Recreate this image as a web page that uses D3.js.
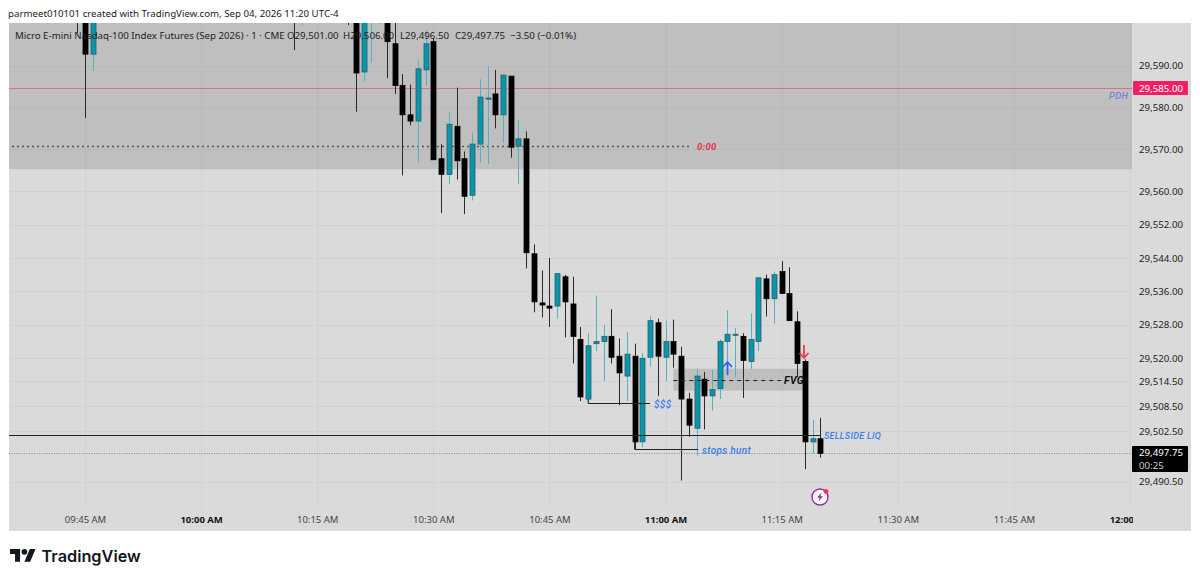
<!DOCTYPE html>
<html>
<head>
<meta charset="utf-8">
<script src="https://cdn.jsdelivr.net/npm/d3@7"></script>
<style>
  html, body { margin: 0; padding: 0; background: #fff; }
  svg { display: block; }
  text { font-family: "Noto Sans", sans-serif; }
</style>
</head>
<body>
<svg id="plot" width="1200" height="581"></svg>
<script>
// minutes since midnight, one candle per minute (bars off the top of the pane are estimates)
const minutes = [584,585,586,612,613,619,620,621,622,623,624,625,626,627,628,629,630,631,632,633,634,635,636,637,638,639,640,641,642,643,644,645,646,647,648,649,650,651,652,653,654,655,656,657,658,659,660,661,662,663,664,665,666,667,668,669,670,671,672,673,674,675,676,677,678,679,680];
const opens = [29606,29612,29592.75,29605,29604,29610,29608,29588.5,29604,29603,29607,29595.25,29585.25,29578.25,29576.75,29589,29595.75,29567.75,29564,29575.5,29567.75,29559,29571.25,29582,29583.25,29578.25,29587.5,29570.75,29572.5,29545,29533.25,29532.5,29532.5,29539.5,29533,29524.5,29510.25,29523.5,29524,29525.25,29520.5,29515.75,29520.5,29500,29520.25,29528.5,29520.25,29524,29520.5,29510.25,29503.25,29515,29511,29512.75,29524,29525.5,29525.25,29519.25,29524,29539,29534.25,29540.75,29535.5,29528.75,29519.25,29500,29500.75];
const highs = [29610,29615,29612,29608,29609,29612,29612,29609,29609,29607,29609,29601,29588,29585.5,29591.5,29598.5,29596.5,29571.25,29578.75,29584.75,29569.5,29574,29586.75,29589.75,29589,29587.75,29587.5,29577,29574.25,29547.25,29541,29544,29540.25,29540,29539.5,29527.5,29526,29535,29528,29531.75,29524.75,29526.25,29523.5,29521.25,29530,29529.5,29529,29529.25,29522.75,29511.75,29517.5,29516.75,29517.25,29524.5,29531.5,29527.25,29526,29530.75,29539.5,29540,29540.75,29543.25,29541.75,29531.25,29519.75,29505.25,29505.75];
const lows = [29597.75,29577.5,29588.75,29593.75,29599.75,29599.75,29579,29586.25,29590.75,29600,29587,29583.25,29563.75,29575.75,29566.75,29585.25,29567.5,29554.75,29561.75,29562.75,29554.5,29557.75,29566.75,29566.5,29575,29571.5,29568,29561.75,29541.5,29531,29529.75,29527.5,29529.5,29525,29518.75,29509.75,29509.25,29521.75,29514.5,29518.75,29508.75,29509.75,29498.25,29498.75,29518,29511,29514.5,29517.75,29490.75,29501.25,29496.75,29503,29507.5,29510.25,29519.25,29515.5,29510.5,29517.5,29521.75,29530,29528.25,29535.5,29529,29515.5,29493.5,29497.25,29496.25];
const closes = [29604,29592.75,29610,29603,29607,29604,29588.25,29606,29608,29605,29595.75,29585.25,29578.25,29576.75,29589.25,29595.25,29567.5,29564,29576,29567.25,29558.75,29571.25,29582.5,29582.25,29578.25,29587.75,29570.5,29572.5,29545.25,29533.5,29532.75,29532,29540.25,29533.5,29525.25,29510.75,29523,29524,29525.25,29520.25,29516.5,29521,29500,29520,29529,29520.5,29524,29521,29510.25,29504,29515.75,29511,29512.5,29524,29525.75,29525.75,29519.5,29524.5,29539.25,29534.25,29540,29535.5,29529,29518.75,29500,29500.75,29497.25];

const priceTicks = [29590,29580,29570,29560,29552,29544,29536,29528,29520,29514.5,29508.5,29502.5,29490.5];
const timeTicks = [585,600,615,630,645,660,675,690,705,720];
const timeLabels = ["09:45 AM","10:00 AM","10:15 AM","10:30 AM","10:45 AM","11:00 AM","11:15 AM","11:30 AM","11:45 AM","12:00 PM"];
const boldTimes = [600,660,720];

const legendParts = ["Micro E-mini Nasdaq-100 Index Futures (Sep 2026) · 1 · CME","O29,501.00","H29,506.00","L29,496.50","C29,497.75  −3.50 (−0.01%)"];
const legendX = [15,287,343,400,455];

const pdhPrice = 29584.75, zoneBottom = 29565.25, zoneTop = 29625;
const dottedLevel = 29570.75, sellsideLevel = 29501.75, dollarLevel = 29509.25, stopsLevel = 29498.25;
const lastLevel = 29497.25, fvgTop = 29517.5, fvgBottom = 29512.25, fvgMid = 29514.75;

const pane = { left: 9, right: 1132, top: 23, bottom: 508 };

const x = d3.scaleLinear().domain([585, 720]).range([85, 1130]);
const y = d3.scaleLinear().domain([29590, 29490.5]).range([65.7, 481.6]);

const svg = d3.select("#plot");

// grey frame behind chart and axes
svg.append("rect").attr("x", pane.left).attr("y", pane.top)
  .attr("width", 1191 - pane.left).attr("height", 531 - pane.top).attr("fill", "#dadada");

svg.append("defs").append("clipPath").attr("id", "paneClip").append("rect")
  .attr("x", pane.left).attr("y", pane.top)
  .attr("width", pane.right - pane.left).attr("height", pane.bottom - pane.top);
d3.select("defs").append("clipPath").attr("id", "timeClip").append("rect")
  .attr("x", pane.left).attr("y", pane.bottom)
  .attr("width", 1133 - pane.left).attr("height", 531 - pane.bottom);

const chart = svg.append("g").attr("clip-path", "url(#paneClip)");

// grid
chart.append("g").selectAll("line").data(priceTicks).join("line")
  .attr("x1", pane.left).attr("x2", pane.right)
  .attr("y1", d => Math.round(y(d)) + .5).attr("y2", d => Math.round(y(d)) + .5)
  .attr("stroke", "#d2d2d2");
chart.append("g").selectAll("line").data(timeTicks).join("line")
  .attr("y1", pane.top).attr("y2", pane.bottom)
  .attr("x1", d => Math.round(x(d)) + .5).attr("x2", d => Math.round(x(d)) + .5)
  .attr("stroke", "#d2d2d2");

// premium zone on top
chart.append("rect")
  .attr("x", pane.left).attr("width", pane.right - pane.left)
  .attr("y", y(zoneTop)).attr("height", y(zoneBottom) - y(zoneTop))
  .attr("fill", "#000").attr("fill-opacity", .12);

// FVG box
chart.append("rect")
  .attr("x", x(661)).attr("width", x(678) - x(661))
  .attr("y", y(fvgTop)).attr("height", y(fvgBottom) - y(fvgTop))
  .attr("fill", "#000").attr("fill-opacity", .12);

// levels
function level(value, from, to, color, dash, w) {
  chart.append("line")
    .attr("x1", from).attr("x2", to)
    .attr("y1", Math.round(y(value)) + .5).attr("y2", Math.round(y(value)) + .5)
    .attr("stroke", color).attr("stroke-width", w || 1)
    .attr("stroke-dasharray", dash || null);
}
level(pdhPrice, pane.left, pane.right, "#dc6f8c");
level(dottedLevel, x(575.6), x(663.4), "#333", "1.5 3.5", 1.5);
level(lastLevel, pane.left, pane.right, "#8a8a8a", "1 1.5");

// candles
const candles = minutes.map((m, i) => ({ m, o: opens[i], h: highs[i], l: lows[i], c: closes[i] }));
const up = d => d.c >= d.o;
const bar = chart.append("g").selectAll("g").data(candles).join("g");
bar.append("line")
  .attr("x1", d => Math.round(x(d.m)) + .5).attr("x2", d => Math.round(x(d.m)) + .5)
  .attr("y1", d => y(d.h)).attr("y2", d => y(d.l))
  .attr("stroke", d => up(d) ? "#4fb4c2" : "#2a2a2a");
bar.append("rect")
  .attr("x", d => Math.round(x(d.m)) - 2)
  .attr("width", 5)
  .attr("y", d => y(Math.max(d.o, d.c)))
  .attr("height", d => Math.max(1, Math.abs(y(d.o) - y(d.c))))
  .attr("fill", d => up(d) ? "#0797ab" : "#000")
  .attr("stroke", d => up(d) ? "#2c5d66" : "#000")
  .attr("stroke-width", .8);

// drawn lines over the candles
level(sellsideLevel, pane.left, x(680), "#222");
level(dollarLevel, x(650), x(658), "#222");
level(stopsLevel, x(656), x(664.2), "#222");
level(fvgMid, x(661), x(675), "#222", "4 4");
chart.append("line")
  .attr("x1", x(656)).attr("x2", x(656))
  .attr("y1", y(29500)).attr("y2", y(stopsLevel)).attr("stroke", "#222");
chart.append("line")
  .attr("x1", x(650)).attr("x2", x(650))
  .attr("y1", y(29510.25)).attr("y2", y(dollarLevel)).attr("stroke", "#222");

// arrows
function arrow(cx, tipY, dir, color) {
  chart.append("path")
    .attr("d", `M${cx},${tipY}v${-dir * 13}M${cx - 4.5},${tipY - dir * 5}L${cx},${tipY}L${cx + 4.5},${tipY - dir * 5}`)
    .attr("fill", "none").attr("stroke", color).attr("stroke-width", 1.8);
}
arrow(727.5, 362, -1, "#2962ff");
arrow(804, 358, 1, "#f23645");

// price axis
const yAxis = svg.append("g")
  .attr("transform", `translate(1132,0)`)
  .call(d3.axisRight(y).tickValues(priceTicks).tickSize(0).tickPadding(7)
    .tickFormat(d3.format(",.2f")));
yAxis.select(".domain").remove();
yAxis.selectAll("text").style("font-size", "9.7px").attr("fill", "#222").style("font-family", "\"Noto Sans\"");

// time axis
const xAxis = svg.append("g")
  .attr("clip-path", "url(#timeClip)")
  .append("g")
  .attr("transform", "translate(0,513)")
  .call(d3.axisBottom(x).tickValues(timeTicks).tickSize(0).tickPadding(3)
    .tickFormat((d, i) => timeLabels[i]));
xAxis.select(".domain").remove();
xAxis.selectAll("text")
  .style("font-size", "9.5px").style("font-family", "\"Noto Sans\"")
  .attr("fill", d => boldTimes.includes(d) ? "#111" : "#444")
  .style("font-weight", d => boldTimes.includes(d) ? 700 : 400);

// price labels
svg.append("rect").attr("x", 1133).attr("y", 81).attr("width", 55).attr("height", 14).attr("rx", 1).attr("fill", "#f01f63");
svg.append("text").attr("x", 1139).attr("y", 91.5).attr("fill", "#fff").style("font-size", "9.7px").text("29,585.00");
svg.append("rect").attr("x", 1132).attr("y", 446).attr("width", 56).attr("height", 26).attr("rx", 1).attr("fill", "#000");
svg.append("text").attr("x", 1139).attr("y", 456).attr("fill", "#fff").style("font-size", "9.7px").text("29,497.75");
svg.append("text").attr("x", 1139).attr("y", 468.5).attr("fill", "#ccc").style("font-size", "9.7px").text("00:25");

// annotation texts
function note(tx, ty, str, color, size, weight) {
  svg.append("text").attr("x", tx).attr("y", ty).attr("fill", color)
    .style("font-family", "Roboto").style("letter-spacing", ".3px")
    .style("font-size", size + "px").style("font-style", "italic")
    .style("font-weight", weight || 500).text(str);
}
note(1109, 99, "PDH", "#6f87d8", 9.5);
note(697, 150, "0:00", "#e8324a", 9.5, 700);
note(654, 408, "$$$", "#3b7df0", 10);
note(702, 454, "stops hunt", "#3b7df0", 10);
note(784, 384, "FVG", "#111", 10.5, 700);
note(824, 439, "SELLSIDE LIQ", "#3b7df0", 9);

// alert icon
const icon = svg.append("g").attr("transform", "translate(820,497)");
icon.append("circle").attr("r", 8).attr("fill", "#fff").attr("stroke", "#9c27b0").attr("stroke-width", 1.4);
icon.append("path").attr("d", "M1.5,-4.5L-3,0.8H-0.4L-1.5,4.5L3,-0.8H0.4Z").attr("fill", "#9c27b0");
icon.append("circle").attr("cx", 6).attr("cy", -5.5).attr("r", 2.4).attr("fill", "#f23645");

// legend and header
svg.append("g").selectAll("text").data(legendParts).join("text")
  .attr("x", (d, i) => legendX[i]).attr("y", 38.5)
  .attr("fill", "#222").style("font-size", "9.7px").style("white-space", "pre")
  .text(d => d);
svg.append("text").attr("x", 8).attr("y", 17).attr("fill", "#222").style("font-size", "9.7px")
  .text("parmeet010101 created with TradingView.com, Sep 04, 2026 11:20 UTC-4");

// logo
const logo = svg.append("g").attr("transform", "translate(10,546) scale(.72)");
logo.append("path").attr("d", "M14 22H7V11H0V4h14v18zM28 22h-8l7.5-18h8L28 22z").attr("fill", "#131722");
logo.append("circle").attr("cx", 20).attr("cy", 8).attr("r", 4).attr("fill", "#131722");
svg.append("text").attr("x", 41.5).attr("y", 561.5).attr("fill", "#131722")
  .style("font-family", "Inter").style("font-size", "16.3px").style("font-weight", 600).text("TradingView");
</script>
</body>
</html>
